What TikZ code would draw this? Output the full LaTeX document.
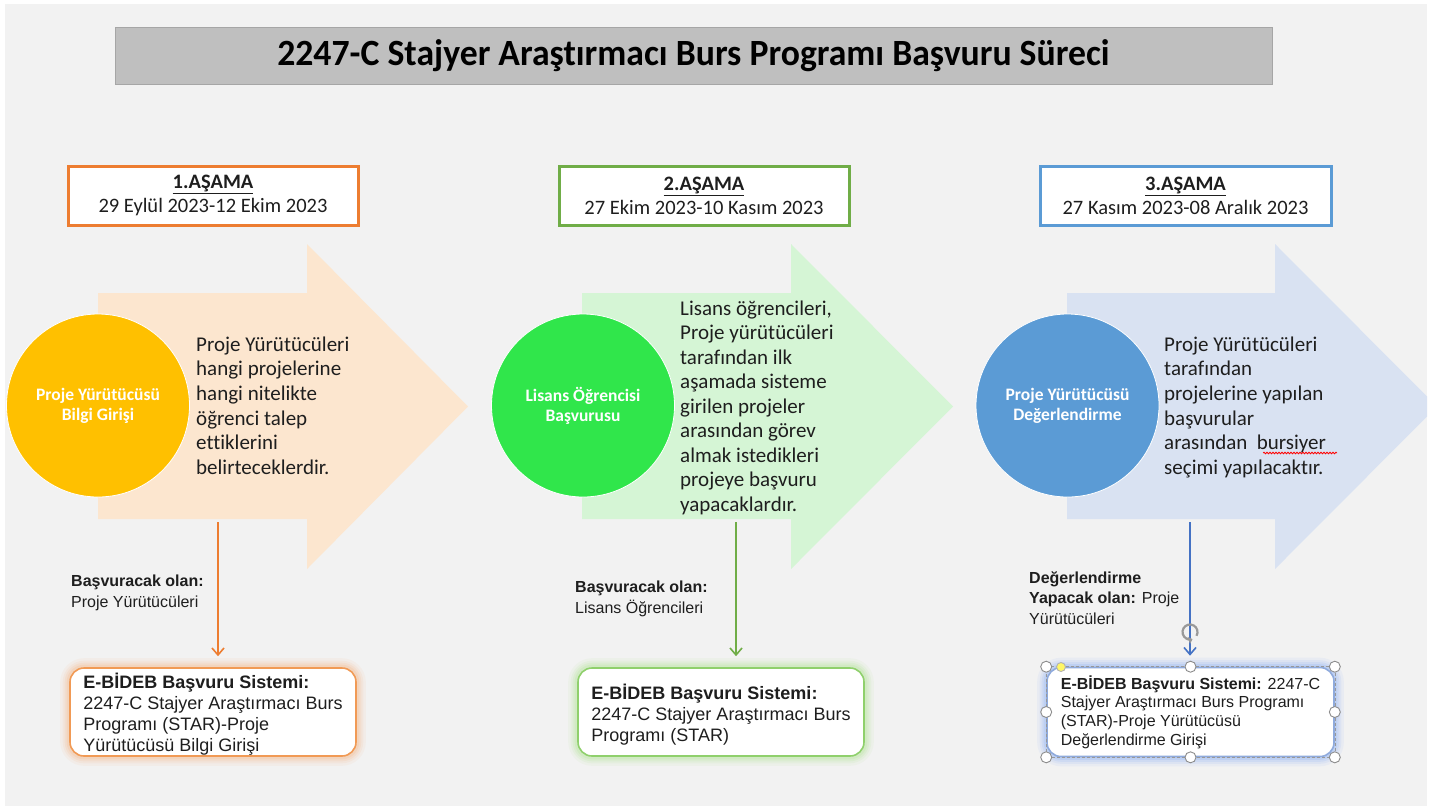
\documentclass[tikz,border=0pt]{standalone}
\usepackage{fontspec}
\setmainfont{Carlito}[Ligatures=NoCommon]
\newfontfamily\arialf{Liberation Sans}
\usetikzlibrary{arrows.meta,decorations.pathmorphing}
\pgfdeclarelayer{bg}\pgfdeclarelayer{glow}\pgfsetlayers{bg,glow,main}
\definecolor{pagebg}{HTML}{F2F2F2}
\definecolor{titlefill}{HTML}{BFBFBF}
\definecolor{titledraw}{HTML}{A6A6A6}
\definecolor{orA}{HTML}{ED7D31}
\definecolor{grA}{HTML}{70AD47}
\definecolor{blA}{HTML}{5B9BD5}
\definecolor{blLine}{HTML}{4472C4}
\definecolor{orLight}{HTML}{FCE6CF}
\definecolor{grLight}{HTML}{D5F5D5}
\definecolor{blLight}{HTML}{D9E2F2}
\definecolor{circY}{HTML}{FFC000}
\definecolor{circG}{HTML}{30E64B}
\definecolor{circB}{HTML}{5B9BD5}
\definecolor{orBox}{HTML}{F19A55}
\definecolor{grBox}{HTML}{8FD06C}
\definecolor{blBox}{HTML}{8FAADC}
\definecolor{orGlow}{HTML}{F4A86A}
\definecolor{grGlow}{HTML}{9EE07A}
\definecolor{blGlow}{HTML}{6E9CF2}
\definecolor{txt}{HTML}{1E1E1E}
\newcommand\glowbox[2]{%
  \begin{pgfonlayer}{glow}
    \foreach \w/\o in {18/0.07,13/0.09,9/0.12,5/0.16}
      \draw[line width=\w pt, draw=#2, opacity=\o, rounded corners=15pt]
        (#1.south west) rectangle (#1.north east);
  \end{pgfonlayer}}
\tikzset{
  stagebox/.style={draw=#1, line width=3pt, fill=white, minimum width=290pt,
    minimum height=59pt, align=center, inner sep=0pt,
    font=\fontsize{20.5}{24}\selectfont, text=txt},
  phase/.style={circle, fill=#1, draw=white, line width=0.8pt, minimum size=183pt,
    inner sep=0pt, align=center, text=white,
    font=\bfseries\fontsize{17.5}{20}\selectfont},
  arrowtext/.style={anchor=base west, align=left, inner sep=0pt,
    font=\fontsize{21}{24.7}\selectfont, text=txt},
  lbl/.style={anchor=base west, align=left, inner sep=0pt,
    font=\arialf\fontsize{16}{20.3}\selectfont, text=txt},
  ebox/.style={draw=#1, line width=1.6pt, fill=white, rounded corners=14pt,
    minimum width=286pt, minimum height=88pt, align=left, inner sep=0pt,
    font=\arialf\fontsize{18}{21}\selectfont, text=txt},
  conn/.style={draw=#1, line width=2pt, -{Straight Barb[length=7pt,width=12pt,line width=1.6pt]}, shorten >=11pt},
  handle/.style={circle, draw=black!45, fill=white, line width=0.9pt, minimum size=11pt, inner sep=0pt}
}
\begin{document}
\begin{tikzpicture}[x=1pt,y=-1pt]
\useasboundingbox (0,0) rectangle (1447,807);
\begin{pgfonlayer}{bg}
  \fill[white] (0,0) rectangle (1447,807);
  \fill[pagebg] (5,4) rectangle (1427,806);
\end{pgfonlayer}

% title
\node[fill=titlefill, draw=titledraw, line width=0.8pt, minimum width=1157pt, minimum height=57pt, inner sep=0pt,
  font=\bfseries\fontsize{37}{40}\selectfont, text=black] (title) at (693.5,55.5)
  {\scalebox{0.965}[1]{2247-C Stajyer Araştırmacı Burs Programı Başvuru Süreci}};

% stage boxes
\node[stagebox=orA] (st1) at (213,195.5) {\underline{\textbf{1.AŞAMA}}\\29 Eylül 2023-12 Ekim 2023};
\node[stagebox=grA] (st2) at (704,195.5) {\underline{\textbf{2.AŞAMA}}\\27 Ekim 2023-10 Kasım 2023};
\node[stagebox=blA, minimum width=291pt] (st3) at (1185.5,195.5) {\underline{\textbf{3.AŞAMA}}\\27 Kasım 2023-08 Aralık 2023};

% big arrows
\fill[orLight] (98,293) -- (307,293) -- (307,244) -- (468,406.5) -- (307,569) -- (307,519) -- (98,519) -- cycle;
\fill[grLight] (582,293) -- (791,293) -- (791,244) -- (953,406.5) -- (791,569) -- (791,519) -- (582,519) -- cycle;
\begin{scope}
  \clip (5,4) rectangle (1427,806);
  \fill[blLight] (1067,293) -- (1275,293) -- (1275,244) -- (1437,406.5) -- (1275,569) -- (1275,519) -- (1067,519) -- cycle;
\end{scope}
\coordinate (s1) at (218,522);
\coordinate (s2) at (736,522);
\coordinate (s3) at (1190,522);

% circles
\node[phase=circY] (c1) at (98,405.5) {Proje Yürütücüsü\\Bilgi Girişi};
\node[phase=circG] (c2) at (583,405.5) {Lisans Öğrencisi\\Başvurusu};
\node[phase=circB] (c3) at (1067.5,405.5) {Proje Yürütücüsü\\Değerlendirme};

% arrow texts (anchor = baseline of last line)
\node[arrowtext] (t1) at (196,474.5) {Proje Yürütücüleri\\hangi projelerine\\hangi nitelikte\\öğrenci talep\\ettiklerini\\belirteceklerdir.};
\node[arrowtext, font=\fontsize{21}{24.5}\selectfont] (t2) at (680,511) {Lisans öğrencileri,\\Proje yürütücüleri\\tarafından ilk\\aşamada sisteme\\girilen projeler\\arasından görev\\almak istedikleri\\projeye başvuru\\yapacaklardır.};
\node[arrowtext] (t3) at (1164,474.5) {Proje Yürütücüleri\\tarafından\\projelerine yapılan\\başvurular\\arasından\ \ bursiyer\\seçimi yapılacaktır.};
\draw[red, line width=0.8pt, decorate, decoration={snake, segment length=3pt, amplitude=0.8pt}] (1263,453) -- (1337,453);

% labels
\node[lbl] (l1) at (71,607) {\textbf{Başvuracak olan:}\\Proje Yürütücüleri};
\node[lbl] (l2) at (575,613) {\textbf{Başvuracak olan:}\\Lisans Öğrencileri};
\node[lbl] (l3) at (1029,624) {\textbf{Değerlendirme}\\\textbf{Yapacak olan:} Proje\\Yürütücüleri};

% bottom boxes
\node[ebox=orBox] (b1) at (213,712) {\rule{0pt}{20pt}\textbf{E-BİDEB Başvuru Sistemi:}\\2247-C Stajyer Araştırmacı Burs\\Programı (STAR)-Proje\\Yürütücüsü Bilgi Girişi};
\node[ebox=grBox] (b2) at (721,712) {\rule{0pt}{20pt}\textbf{E-BİDEB Başvuru Sistemi:}\\2247-C Stajyer Araştırmacı Burs\\Programı (STAR)};
\node[ebox=blBox, minimum width=287pt, minimum height=89pt, font=\arialf\fontsize{16}{18.7}\selectfont] (b3) at (1190.5,712)
  {\textbf{E-BİDEB Başvuru Sistemi:} 2247-C\\Stajyer Araştırmacı Burs Programı\\(STAR)-Proje Yürütücüsü\\Değerlendirme Girişi};
\glowbox{b1}{orGlow}
\glowbox{b2}{grGlow}
\glowbox{b3}{blGlow}

% connectors
\draw[conn=orA] (s1) -- (s1 |- b1.north);
\draw[conn=grA] (s2) -- (s2 |- b2.north);
\draw[conn=blLine] (s3) -- (s3 |- b3.north);

% selection handles around third box
\draw[black!40, line width=0.6pt, densely dashed] (b3.south west) rectangle (b3.north east);
\foreach \p in {b3.north west, b3.north, b3.north east, b3.west, b3.east, b3.south west, b3.south, b3.south east}
  \node[handle] at (\p) {};
\node[handle, fill=yellow!60, draw=black!30, minimum size=9pt] at (1061,667) {};
\draw[black!40, line width=2.2pt, -{Triangle[length=4pt,width=7pt]}] (1190,632) ++(30:7.5) arc[start angle=30, end angle=-290, radius=7.5];
\end{tikzpicture}
\end{document}
